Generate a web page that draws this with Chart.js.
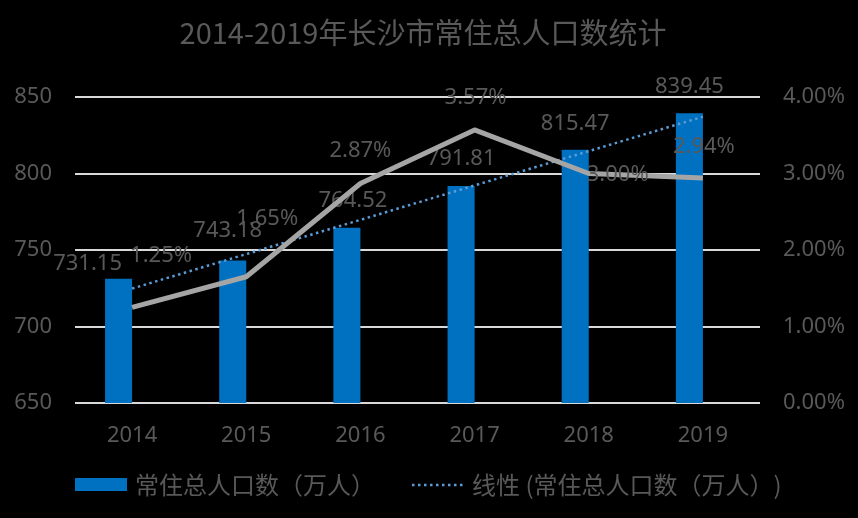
<!DOCTYPE html>
<html>
<head>
<meta charset="utf-8">
<script src="https://cdn.jsdelivr.net/npm/chart.js@4/dist/chart.umd.min.js"></script>
<style>
  html, body { margin: 0; padding: 0; background: #000; }
  #wrap { width: 858px; height: 518px; }
</style>
</head>
<body>
<div id="wrap"><canvas id="c" width="858" height="518"></canvas></div>
<script>
// ---- data ----
const titleText = '2014-2019年长沙市常住总人口数统计';
const years = ['2014', '2015', '2016', '2017', '2018', '2019'];
const population = [731.15, 743.18, 764.52, 791.81, 815.47, 839.45];      // 万人
const growthRate = [1.25, 1.65, 2.87, 3.57, 3.00, 2.94];                  // %
const trendValues = [724.8, 747.3, 769.7, 792.2, 814.6, 837.1];           // dotted linear trend
const leftTicks = [650, 700, 750, 800, 850];
const rightTicks = [0, 1, 2, 3, 4];
const seriesName = '常住总人口数（万人）';
const trendName = '线性 (常住总人口数（万人）)';

// ---- styling ----
const TEXT = '#595959';
const BLUE = '#0070C0';
const GRAY = '#A5A5A5';
const TREND = '#5B9BD5';
const LATIN = '"Noto Sans", "Noto Sans CJK SC", sans-serif';
const CJK = '"Noto Sans CJK SC", "Noto Sans", sans-serif';

// label offsets (text centre relative to bar top / line point)
const barLabelShift = [[-31, -17], [-5, -31], [6, -29], [0, -29], [0, -28], [0, -28]];
const lineLabelShift = [[29, -53], [21, -60], [0, -34], [1, -34], [29, 0], [1, -33]];

function drawCentered(ctx, text, cx, cy, size) {
  ctx.save();
  ctx.font = size + 'px ' + LATIN;
  ctx.fillStyle = TEXT;
  ctx.textAlign = 'center';
  ctx.textBaseline = 'alphabetic';
  ctx.fillText(text, cx, cy + size * 0.357);
  ctx.restore();
}

const labelPlugin = {
  id: 'labels',
  afterDatasetDraw(chart, args) {
    if (args.index !== 0) return;
    const ctx = chart.ctx;
    const meta = chart.getDatasetMeta(0);
    meta.data.forEach((el, i) => {
      const s = barLabelShift[i];
      drawCentered(ctx, population[i].toFixed(2), el.x + s[0], el.y + s[1], 22);
    });
  },
  afterDatasetsDraw(chart) {
    const ctx = chart.ctx;
    const meta = chart.getDatasetMeta(3);
    meta.data.forEach((el, i) => {
      const s = lineLabelShift[i];
      drawCentered(ctx, growthRate[i].toFixed(2) + '%', el.x + s[0], el.y + s[1], 22);
    });
  },
  afterDraw(chart) {
    const ctx = chart.ctx;
    ctx.save();
    // title
    ctx.font = '29px ' + CJK;
    ctx.fillStyle = TEXT;
    ctx.textAlign = 'center';
    ctx.textBaseline = 'alphabetic';
    ctx.fillText(titleText, 423, 44);
    // legend
    ctx.fillStyle = BLUE;
    ctx.fillRect(75, 478, 52, 13);
    ctx.font = '24px ' + CJK;
    ctx.fillStyle = TEXT;
    ctx.textAlign = 'left';
    ctx.fillText(seriesName, 135, 494);
    ctx.strokeStyle = TREND;
    ctx.lineWidth = 2.5;
    ctx.setLineDash([2.5, 3.5]);
    ctx.beginPath();
    ctx.moveTo(412, 485);
    ctx.lineTo(464, 485);
    ctx.stroke();
    ctx.setLineDash([]);
    ctx.fillText(trendName, 472, 494);
    ctx.restore();
  }
};

new Chart(document.getElementById('c'), {
  type: 'bar',
  data: {
    labels: years,
    datasets: [
      {
        label: seriesName,
        data: population,
        backgroundColor: BLUE,
        yAxisID: 'y',
        order: 3,
        categoryPercentage: 54 / 114,
        barPercentage: 1
      },
      {
        label: 'blank',
        data: years.map(() => null),
        backgroundColor: 'rgba(0,0,0,0)',
        yAxisID: 'y',
        order: 3,
        categoryPercentage: 54 / 114,
        barPercentage: 1
      },
      {
        type: 'line',
        label: trendName,
        data: trendValues,
        yAxisID: 'y',
        borderColor: TREND,
        borderWidth: 2.5,
        borderDash: [2.5, 3.5],
        pointRadius: 0,
        fill: false,
        tension: 0,
        order: 2
      },
      {
        type: 'line',
        label: '增长率',
        data: growthRate,
        yAxisID: 'y1',
        borderColor: GRAY,
        borderWidth: 5,
        borderJoinStyle: 'round',
        borderCapStyle: 'butt',
        pointRadius: 0,
        fill: false,
        tension: 0,
        order: 1
      }
    ]
  },
  options: {
    responsive: false,
    animation: false,
    events: [],
    layout: { padding: { top: 97, left: 0, right: 0, bottom: 0 } },
    plugins: {
      legend: { display: false },
      title: { display: false },
      tooltip: { enabled: false }
    },
    scales: {
      x: {
        grid: { display: false, drawTicks: false },
        border: { display: false },
        ticks: { color: TEXT, font: { family: LATIN, size: 22 }, padding: 20 },
        afterFit(scale) { scale.height = 115; }
      },
      y: {
        position: 'left',
        min: leftTicks[0],
        max: leftTicks[leftTicks.length - 1],
        afterBuildTicks(scale) { scale.ticks = leftTicks.map(v => ({ value: v })); },
        grid: { color: '#D9D9D9', lineWidth: 2, drawTicks: false },
        border: { display: false },
        ticks: { color: TEXT, font: { family: LATIN, size: 22 }, padding: 23 },
        afterFit(scale) { scale.width = 75; }
      },
      y1: {
        position: 'right',
        min: rightTicks[0],
        max: rightTicks[rightTicks.length - 1],
        afterBuildTicks(scale) { scale.ticks = rightTicks.map(v => ({ value: v })); },
        grid: { display: false, drawTicks: false },
        border: { display: false },
        ticks: {
          color: TEXT,
          font: { family: LATIN, size: 22 },
          padding: 23,
          callback: v => Number(v).toFixed(2) + '%'
        },
        afterFit(scale) { scale.width = 98; }
      }
    }
  },
  plugins: [labelPlugin]
});
</script>
</body>
</html>
